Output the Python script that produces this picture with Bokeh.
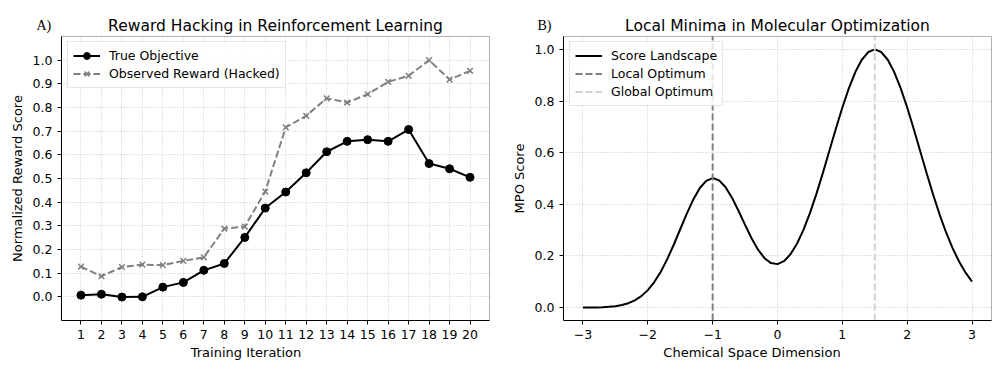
from bokeh.plotting import figure
from bokeh.layouts import row
from bokeh.models import FixedTicker, PrintfTickFormatter, Label, Range1d, BoxAnnotation
from bokeh.embed import file_html
from bokeh.resources import INLINE

# ---------------- data: panel A ----------------
iterations = [1, 2, 3, 4, 5, 6, 7, 8, 9, 10, 11, 12, 13, 14, 15, 16, 17, 18, 19, 20]
true_objective = [0.007, 0.011, -0.001, 0.000, 0.041, 0.061, 0.112, 0.141, 0.251, 0.375,
                  0.443, 0.524, 0.613, 0.657, 0.664, 0.657, 0.707, 0.563, 0.541, 0.505]
observed_reward = [0.128, 0.087, 0.126, 0.136, 0.134, 0.152, 0.167, 0.288, 0.297, 0.445,
                   0.716, 0.765, 0.839, 0.821, 0.856, 0.908, 0.934, 1.000, 0.918, 0.955]
a_yticks = [0.0, 0.1, 0.2, 0.3, 0.4, 0.5, 0.6, 0.7, 0.8, 0.9, 1.0]

# ---------------- data: panel B ----------------
chem_x = [-3.0, -2.9, -2.8, -2.7, -2.6, -2.5, -2.4, -2.3, -2.2, -2.1,
          -2.0, -1.9, -1.8, -1.7, -1.6, -1.5, -1.4, -1.3, -1.2, -1.1,
          -1.0, -0.9, -0.8, -0.7, -0.6, -0.5, -0.4, -0.3, -0.2, -0.1,
          0.0, 0.1, 0.2, 0.3, 0.4, 0.5, 0.6, 0.7, 0.8, 0.9,
          1.0, 1.1, 1.2, 1.3, 1.4, 1.5, 1.6, 1.7, 1.8, 1.9,
          2.0, 2.1, 2.2, 2.3, 2.4, 2.5, 2.6, 2.7, 2.8, 2.9, 3.0]
mpo_score = [0.0002, 0.0004, 0.0008, 0.0015, 0.0030, 0.0056, 0.0099, 0.0170, 0.0281, 0.0444,
             0.0677, 0.0990, 0.1390, 0.1876, 0.2434, 0.3034, 0.3633, 0.4179, 0.4622, 0.4911,
             0.5017, 0.4929, 0.4661, 0.4248, 0.3742, 0.3202, 0.2685, 0.2243, 0.1914, 0.1724,
             0.1684, 0.1797, 0.2064, 0.2471, 0.3008, 0.3660, 0.4406, 0.5219, 0.6073, 0.6930,
             0.7750, 0.8493, 0.9123, 0.9600, 0.9898, 1.0000, 0.9898, 0.9600, 0.9123, 0.8493,
             0.7748, 0.6926, 0.6065, 0.5204, 0.4376, 0.3604, 0.2909, 0.2301, 0.1783, 0.1353, 0.1007]
local_optimum = [-1.0]
global_optimum = [1.5]
b_xticks = [-3, -2, -1, 0, 1, 2, 3]
b_yticks = [0.0, 0.2, 0.4, 0.6, 0.8, 1.0]

FONT = "DejaVu Sans"
TICK_SIZE = "12.5px"
LABEL_SIZE = "13px"
LEGEND_SIZE = "12.5px"
TITLE_SIZE = "15.5px"
GRAY = "#808080"

# layout geometry (pixels, canvas coordinates of each figure)
TOP = 36          # axes box top
BOTTOM = 320      # axes box bottom
HEIGHT = 366


def make_panel(canvas_w, box_left, box_right, xlim, ylim, title, tag, tag_x,
               legend_xy, xticks, yticks, xlabel, ylabel):
    xlo, xhi = xlim
    ylo, yhi = ylim
    ppx = (box_right - box_left) / (xhi - xlo)
    ppy = (BOTTOM - TOP) / (yhi - ylo)
    frame_w = box_right + 2
    x_start = xlo - box_left / ppx
    x_end = xhi + 2 / ppx
    y_end = yhi + TOP / ppy
    p = figure(frame_width=frame_w, frame_height=BOTTOM, min_border=0,
               min_border_left=0, min_border_right=canvas_w - frame_w,
               min_border_top=0, min_border_bottom=HEIGHT - BOTTOM,
               x_range=Range1d(x_start, x_end), y_range=Range1d(ylo, y_end),
               output_backend="svg", toolbar_location=None)
    p.background_fill_color = "white"
    p.border_fill_color = "white"
    p.outline_line_color = None

    for ax in p.axis:
        ax.axis_line_color = "black"
        ax.axis_line_width = 1
        ax.major_tick_out = 4
        ax.major_tick_in = 0
        ax.major_tick_line_width = 1
        ax.minor_tick_out = 0
        ax.minor_tick_in = 0
        ax.major_label_text_font = FONT
        ax.major_label_text_font_size = TICK_SIZE
        ax.major_label_text_color = "black"
        ax.major_label_standoff = 5
        ax.axis_label_text_font = FONT
        ax.axis_label_text_font_size = LABEL_SIZE
        ax.axis_label_text_font_style = "normal"
        ax.axis_label_text_color = "black"
    p.xaxis.axis_label_standoff = 3
    p.yaxis.axis_label_standoff = 5
    p.xaxis.ticker = FixedTicker(ticks=xticks)
    p.yaxis.ticker = FixedTicker(ticks=yticks)
    p.yaxis.formatter = PrintfTickFormatter(format="%.1f")
    p.xaxis.bounds = (xlo, xhi)
    p.yaxis.bounds = (ylo, yhi)
    p.yaxis.fixed_location = xlo
    p.xaxis.axis_label = xlabel
    p.yaxis.axis_label = ylabel

    for g in p.grid:
        g.grid_line_color = "#b0b0b0"
        g.grid_line_dash = "1 2"
        g.grid_line_width = 0.8
        g.grid_line_alpha = 0.9

    # white covers so that the grid stays inside the axes box
    p.add_layout(BoxAnnotation(left=x_start - 1, right=x_end + 1, bottom=yhi, top=y_end + 1,
                               fill_color="white", fill_alpha=1, line_color=None, level="underlay"))
    p.add_layout(BoxAnnotation(left=x_start - 1, right=xlo, bottom=ylo - 1, top=y_end + 1,
                               fill_color="white", fill_alpha=1, line_color=None, level="underlay"))
    # axes box
    p.add_layout(BoxAnnotation(left=xlo, right=xhi, bottom=ylo, top=yhi, fill_color=None,
                               line_color="black", line_width=1))
    # title and panel tag
    p.add_layout(Label(x=(xlo + xhi) / 2, y=yhi + 11 / ppy, text=title, text_align="center",
                       text_baseline="alphabetic", text_font=FONT, text_font_size=TITLE_SIZE,
                       text_color="black"))
    p.add_layout(Label(x=x_start + tag_x / ppx, y=yhi + 11 / ppy, text=tag, text_align="left",
                       text_baseline="alphabetic", text_font="Liberation Serif",
                       text_font_size="14px", text_color="black"))
    return p, legend_xy


def style_legend(p, xy):
    lg = p.legend[0]
    lg.location = xy
    lg.margin = 0
    lg.padding = 5
    lg.spacing = 1
    lg.glyph_width = 27
    lg.glyph_height = 17
    lg.label_standoff = 9
    lg.label_text_font = FONT
    lg.label_text_font_size = LEGEND_SIZE
    lg.label_text_color = "black"
    lg.border_line_color = "#cccccc"
    lg.border_line_width = 1
    lg.background_fill_color = "white"
    lg.background_fill_alpha = 0.8


# ---------------- panel A ----------------
pa, la = make_panel(510, 61, 489, (0.05, 20.95), (-0.1, 1.1),
                    "Reward Hacking in Reinforcement Learning", "A)", 36,
                    (67, BOTTOM - 43 - 45), iterations, a_yticks,
                    "Training Iteration", "Normalized Reward Score")
pa.line(iterations, true_objective, line_color="black", line_width=2, legend_label="True Objective")
pa.scatter(iterations, true_objective, marker="circle", size=8, fill_color="black",
           line_color="black", legend_label="True Objective")
pa.line(iterations, observed_reward, line_color=GRAY, line_width=2, line_dash="7 3",
        legend_label="Observed Reward (Hacked)")
pa.scatter(iterations, observed_reward, marker="x", size=8, line_color=GRAY, line_width=1.5,
           legend_label="Observed Reward (Hacked)")
style_legend(pa, la)

# ---------------- panel B ----------------
b_ylo, b_yhi = -0.05, 1.05
pb, lb = make_panel(486, 53, 481, (-3.3, 3.3), (b_ylo, b_yhi),
                    "Local Minima in Molecular Optimization", "B)", 27,
                    (59, BOTTOM - 43 - 63), b_xticks, b_yticks,
                    "Chemical Space Dimension", "MPO Score")
pb.xaxis.major_label_overrides = {t: str(t).replace("-", "\u2212") for t in b_xticks}
pb.line(chem_x, mpo_score, line_color="black", line_width=2, legend_label="Score Landscape")
pb.segment(x0=local_optimum, y0=[b_ylo], x1=local_optimum, y1=[b_yhi], line_color=GRAY,
           line_width=2, line_dash="7 3", legend_label="Local Optimum")
pb.segment(x0=global_optimum, y0=[b_ylo], x1=global_optimum, y1=[b_yhi], line_color="#d3d3d3",
           line_width=2, line_dash="7 3", legend_label="Global Optimum")
style_legend(pb, lb)

layout = row(pa, pb)
open("out.html", "w").write(file_html(layout, INLINE))
